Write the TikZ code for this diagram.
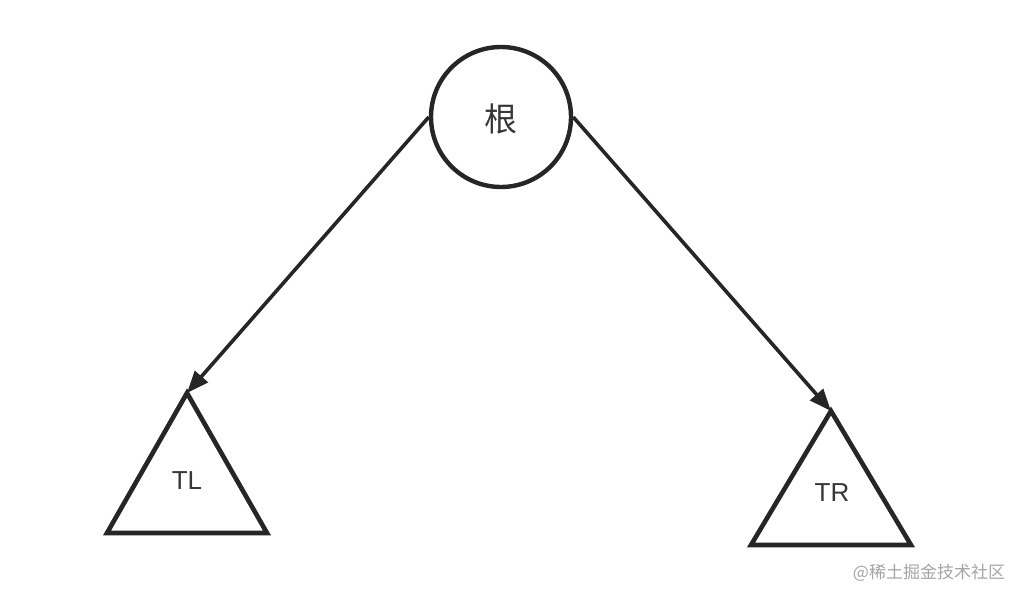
\documentclass[tikz,border=0pt]{standalone}
\usepackage{fontspec}
\setmainfont{Liberation Sans}
\newfontfamily\cjk{Noto Sans CJK SC}
\usetikzlibrary{arrows.meta}
\definecolor{inkc}{RGB}{38,38,38}
\definecolor{txtc}{RGB}{55,55,55}
\definecolor{wmc}{RGB}{165,165,165}
\begin{document}
\begin{tikzpicture}[x=1pt,y=-1pt,
  edge/.style={draw=inkc,line width=4.6pt,line join=miter},
  conn/.style={draw=inkc,line width=3.6pt,-{Triangle[length=22pt,width=17pt]}},
  lbl/.style={text=txtc,font=\fontsize{26}{26}\selectfont,inner sep=0pt}]
\useasboundingbox (0,0) rectangle (1028,602);
\fill[white] (0,0) rectangle (1028,602);
\node[circle,draw=inkc,line width=4.4pt,minimum size=140pt,inner sep=0pt] (root) at (501,117) {};
\node[text=txtc,font=\cjk\fontsize{33}{33}\selectfont,inner sep=0pt] (rootl) at (501,119) {根};
% left triangle
\coordinate (tlA) at (187,393);
\coordinate (tlB) at (107,533);
\coordinate (tlC) at (267,533);
\draw[edge] (tlA) -- (tlB) -- (tlC) -- cycle;
\node[lbl] (tl) at (187,481) {TL};
% right triangle
\coordinate (trA) at (831,411);
\coordinate (trB) at (751,545);
\coordinate (trC) at (911,545);
\draw[edge] (trA) -- (trB) -- (trC) -- cycle;
\node[lbl] (tr) at (832,493) {TR};
% connectors
\draw[conn] (root.west) -- (tlA);
\draw[conn] (root.east) -- (trA);
% watermark
\node[text=wmc,font=\cjk\fontsize{17}{17}\selectfont,inner sep=0pt] (wm) at (929,573) {@稀土掘金技术社区};
\end{tikzpicture}
\end{document}
